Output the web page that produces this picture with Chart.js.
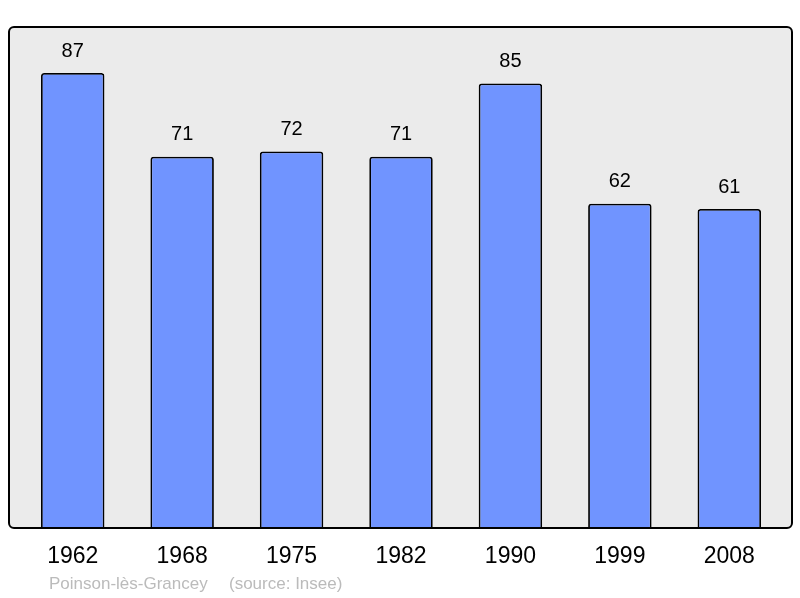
<!DOCTYPE html>
<html>
<head>
<meta charset="utf-8">
<script src="https://cdn.jsdelivr.net/npm/chart.js@4/dist/chart.umd.min.js"></script>
<style>
  html, body { margin: 0; padding: 0; background: #fff; }
  #wrap { width: 800px; height: 598px; position: relative; }
</style>
</head>
<body>
<div id="wrap"><canvas id="popChart" width="800" height="598"></canvas></div>
<script>
const years = ['1962', '1968', '1975', '1982', '1990', '1999', '2008'];
const population = [87, 71, 72, 71, 85, 62, 61];
const commune = 'Poinson-lès-Grancey';
const source = '(source: Insee)';

const FONT = "'Liberation Sans', Arial, sans-serif";

// frame, value labels, year labels and footer
const decorations = {
    id: 'decorations',
    beforeDraw(chart) {
        const ctx = chart.ctx;
        ctx.save();
        ctx.fillStyle = '#ebebeb';
        ctx.beginPath();
        ctx.roundRect(9, 27, 783, 501, 5);
        ctx.fill();
        ctx.restore();
    },
    afterDatasetsDraw(chart) {
        const ctx = chart.ctx;
        const x = chart.scales.x;
        const y = chart.scales.y;
        ctx.save();
        ctx.strokeStyle = '#000';
        ctx.lineWidth = 2;
        ctx.beginPath();
        ctx.roundRect(9, 27, 783, 501, 5);
        ctx.stroke();

        ctx.fillStyle = '#000';
        ctx.textAlign = 'center';
        ctx.textBaseline = 'middle';
        ctx.font = '20px ' + FONT;
        population.forEach((v, i) => {
            ctx.fillText(String(v), x.getPixelForValue(i), y.getPixelForValue(v) - 22);
        });

        ctx.font = '23px ' + FONT;
        years.forEach((yr, i) => {
            ctx.fillText(yr, x.getPixelForValue(i), 557);
        });

        ctx.fillStyle = '#bbbbbb';
        ctx.textAlign = 'left';
        ctx.font = '17px ' + FONT;
        ctx.fillText(commune, 49, 584);
        ctx.fillText(source, 229, 584);
        ctx.restore();
    }
};

new Chart(document.getElementById('popChart').getContext('2d'), {
    type: 'bar',
    data: {
        labels: years,
        datasets: [{
            data: population,
            backgroundColor: '#7094ff',
            borderColor: '#000',
            borderWidth: 1.8,
            borderRadius: 3,
            borderSkipped: 'bottom',
            categoryPercentage: 1,
            barPercentage: 0.58
        }]
    },
    options: {
        responsive: false,
        animation: false,
        layout: { padding: { left: 18, right: 16, top: 27, bottom: 70 } },
        plugins: {
            legend: { display: false },
            tooltip: { enabled: false }
        },
        scales: {
            x: { display: false },
            y: { display: false, min: 0, max: 95.8 }
        }
    },
    plugins: [decorations]
});
</script>
</body>
</html>
